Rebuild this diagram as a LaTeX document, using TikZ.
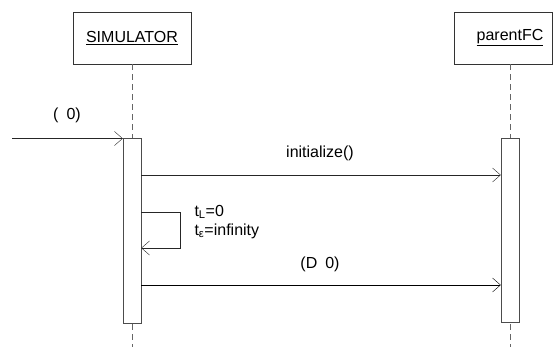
\documentclass[tikz,border=0pt]{standalone}
\usepackage{fontspec}
\setmainfont{Liberation Sans}
\usetikzlibrary{arrows.meta, positioning}

\begin{document}
\begin{tikzpicture}[
  x=1pt, y=-1pt,
  every node/.style={font=\fontsize{16}{18}\selectfont},
  obj/.style={draw=black!80, minimum width=118pt, minimum height=52pt, inner sep=0pt},
  act/.style={draw=black!70, fill=white, minimum width=18pt, inner sep=0pt},
  life/.style={draw=black!60, dash pattern=on 6pt off 4pt},
  msg/.style={draw=black!85, -{Straight Barb[length=8pt, width=14pt]}}
]
\useasboundingbox (0,0) rectangle (553,347);

% Objects
\node[obj] (sim) at (132,38) {\underline{SIMULATOR}};
\node[obj, minimum width=98pt] (parent) at (503,38) {\hspace*{14pt}\underline{parentFC}};

% Lifelines
\coordinate (simend) at (132,347);
\coordinate (parentend) at (510,347);
\draw[life] (sim.south) -- (simend);
\draw[life] (parent.south -| parentend) -- (parentend);

% Activations
\node[act, minimum height=185pt] (simact) at (132,230.5) {};
\node[act, minimum height=184pt] (parentact) at (510,230) {};

% Messages
\coordinate (src) at (12,138.5);
\draw[msg] (src) -- (src -| simact.west);
\node (start) at (67,115) {(\hspace{8pt}0)};

\coordinate (m1) at (simact.east |- 0,175);
\draw[msg] (m1) -- (m1 -| parentact.west);
\node (init) at (320,153) {initialize()};

\coordinate (self) at (simact.east |- 0,212);
\coordinate (selfret) at (simact.east |- 0,248);
\draw[msg] (self) -- ++(39,0) -- ++(0,36) -- (selfret);
\node[anchor=west] (tl) at (191,212) {t\textsubscript{L}=0};
\node[anchor=west] (tn) at (191,231) {t\textsubscript{ε}=infinity};

\coordinate (m2) at (simact.east |- 0,285);
\draw[msg, draw=black] (m2) -- (m2 -| parentact.west);
\node (done) at (320,264) {(D\hspace{8pt}0)};
\end{tikzpicture}
\end{document}
